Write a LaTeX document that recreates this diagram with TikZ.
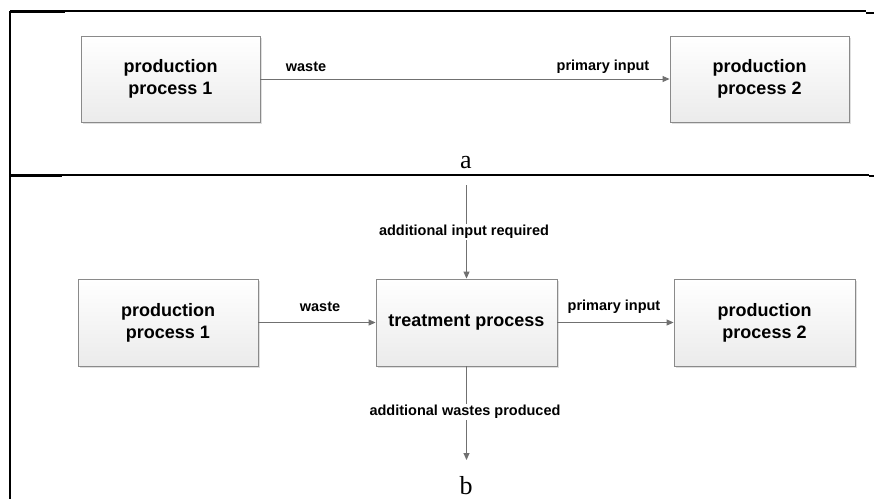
\documentclass[tikz,border=0pt]{standalone}
\usepackage{fontspec}
\setmainfont{Liberation Serif}
\newfontfamily\arialf{Liberation Sans}
\usetikzlibrary{arrows.meta,shadows,positioning}
\definecolor{linegray}{HTML}{707070}
\definecolor{boxborder}{HTML}{8A8A8A}
\definecolor{boxbottom}{HTML}{EBEBEB}
\tikzset{
  procbox/.style={draw=boxborder, line width=0.9pt, top color=white, bottom color=boxbottom,
    drop shadow={shadow xshift=1.5pt, shadow yshift=-1.5pt, opacity=0.25},
    align=center, inner sep=0pt,
    font=\arialf\bfseries\fontsize{18}{22}\selectfont},
  flow/.style={draw=linegray, line width=0.9pt, -{Triangle[length=7pt,width=6pt]}},
  flowlabel/.style={font=\arialf\bfseries\fontsize{14.5}{17}\selectfont, inner sep=1pt, text=black},
  panel/.style={font=\fontsize{26}{30}\selectfont, inner sep=0pt},
  rule/.style={line width=1.3pt, black}
}
\begin{document}
\begin{tikzpicture}[x=1pt,y=-1pt]
\useasboundingbox (0,0) rectangle (874,499);
\fill[white] (0,0) rectangle (874,499);
% table rules
\draw[rule] (10,11) -- (866,11);
\draw[line width=2pt] (10,11.5) -- (65,11.5);
\draw[line width=2pt] (866,12.5) -- (874,12.5);
\draw[rule] (10,175) -- (869,175);
\draw[line width=2pt] (10,175.5) -- (62,175.5);
\draw[line width=2pt] (869,175.5) -- (874,175.5);
\draw[line width=2.2pt] (10,10.5) -- (10,499);

% panel a
\node[procbox, minimum width=179pt, minimum height=86pt] (a1) at (170.5,79) {production\\process 1};
\node[procbox, minimum width=179pt, minimum height=86pt] (a2) at (759.5,79) {production\\process 2};
\draw[flow] (a1.east) -- (a2.west);
\node[flowlabel] (awaste) at (306,67) {waste};
\node[flowlabel] (aprim) at (603,67) {primary input};
\node[panel, anchor=base] (alab) at (466,168) {a};

% panel b
\node[procbox, minimum width=180pt, minimum height=87pt] (b1) at (168,322.5) {production\\process 1};
\node[procbox, minimum width=181pt, minimum height=87pt] (tp) at (466.5,322.5) {treatment process};
\node[procbox, minimum width=181pt, minimum height=87pt] (b2) at (764.5,322.5) {production\\process 2};
\coordinate (topin) at (466.5,185);
\coordinate (botout) at (466.5,460);
\draw[flow] (b1.east) -- (tp.west);
\draw[flow] (tp.east) -- (b2.west);
\draw[flow] (topin) -- (tp.north);
\draw[flow] (tp.south) -- (botout);
\node[flowlabel] (bwaste) at (320,307) {waste};
\node[flowlabel] (bprim) at (614,307) {primary input};
\node[flowlabel, fill=white] (addin) at (464,232) {additional input required};
\node[flowlabel, fill=white] (addout) at (465,412) {additional wastes produced};
\node[panel, anchor=base] (blab) at (466,494) {b};
\end{tikzpicture}
\end{document}
